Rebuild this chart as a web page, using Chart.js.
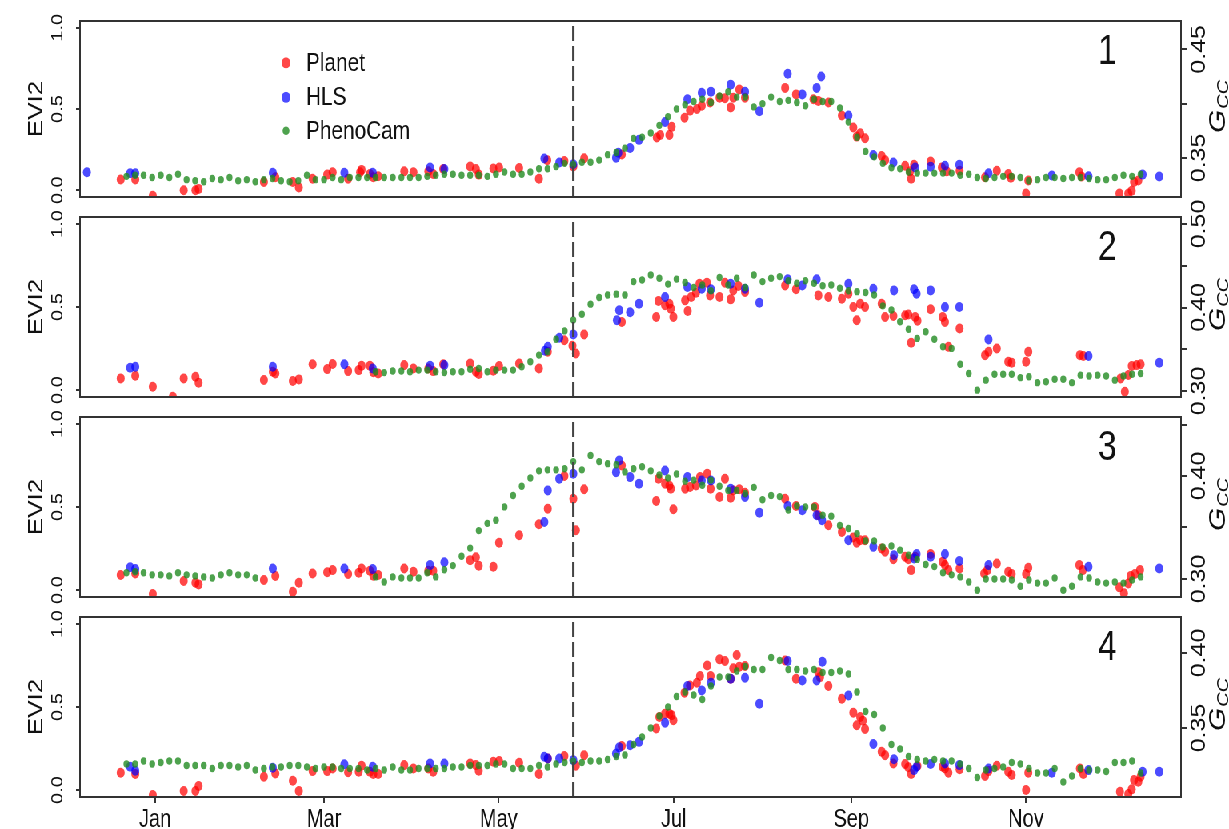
<!DOCTYPE html>
<html>
<head>
<meta charset="utf-8">
<script src="https://cdn.jsdelivr.net/npm/chart.js@4.4.0/dist/chart.umd.min.js"></script>
<style>
html, body { margin: 0; padding: 0; background: #fff; overflow: hidden; width: 1229px; height: 829px; }
#wrap { position: absolute; left: 0; top: 0; width: 1536px; height: 829px; transform: scaleX(0.80013); transform-origin: 0 0; }
#wrap canvas { position: absolute; left: 0; top: 0; width: 1536px; height: 829px; }
</style>
</head>
<body>
<div id="wrap">
  <canvas id="p0" width="1536" height="829"></canvas>
  <canvas id="p1" width="1536" height="829"></canvas>
  <canvas id="p2" width="1536" height="829"></canvas>
  <canvas id="p3" width="1536" height="829"></canvas>
</div>
<script>
// days counted from Jan 1
const monthTicks = [0, 59, 120, 181, 243, 304];
const monthLabels = ['Jan', 'Mar', 'May', 'Jul', 'Sep', 'Nov'];
const dashDay = 146;
const panelNames = ['1', '2', '3', '4'];
const legendNames = ['Planet', 'HLS', 'PhenoCam'];

const eviTicks = [0, 0.5, 1];
const eviTickLabels = ['0.0', '0.5', '1.0'];
const gccRange = [[0.3140, 0.4761], [0.2928, 0.5084], [0.2825, 0.4573], [0.3040, 0.4240]];
const gccTicks = [[0.35, 0.40, 0.45], [0.30, 0.35, 0.40, 0.45, 0.50], [0.30, 0.35, 0.40, 0.45], [0.35, 0.40]];
const gccTickLabels = [['0.35', '', '0.45'], ['0.30', '', '0.40', '', '0.50'], ['0.30', '', '0.40', ''], ['0.35', '0.40']];

// PhenoCam 3-day composites
const phenoDays = [-10,-7,-4,-1,2,5,8,11,14,17,20,23,26,29,32,35,38,41,44,47,50,53,56,59,62,65,68,71,74,77,
  80,83,86,89,92,95,98,101,104,107,110,113,116,119,122,125,128,131,134,137,140,143,146,149,152,155,158,161,164,167,
  170,173,176,179,182,185,188,191,194,197,200,203,206,209,212,215,218,221,224,227,230,233,236,239,242,245,248,251,254,257,
  260,263,266,269,272,275,278,281,284,287,290,293,296,299,302,305,308,311,314,317,320,323,326,329,332,335,338,341,344];

const pheno1 = [0.333,0.334,0.334,0.332,0.334,0.332,0.335,0.330,0.329,0.328,
  0.331,0.330,0.332,0.329,0.330,0.328,0.330,0.331,0.329,0.328,
  0.329,0.334,0.330,0.330,0.332,0.330,0.332,0.332,0.332,0.332,
  0.332,0.332,0.332,0.332,0.332,0.333,0.334,0.335,0.335,0.334,
  0.334,0.334,0.333,0.335,0.337,0.335,0.335,0.337,0.340,0.340,
  0.342,0.345,0.344,0.346,0.346,0.348,0.353,0.355,0.359,0.368,
  0.369,0.373,0.380,0.388,0.395,0.399,0.402,0.404,0.401,0.407,
  0.411,0.406,0.406,0.397,0.400,0.406,0.402,0.403,0.401,0.398,
  0.404,0.402,0.402,0.396,0.383,0.369,0.356,0.351,0.345,0.341,
  0.340,0.337,0.336,0.336,0.336,0.336,0.336,0.334,0.335,0.332,
  0.331,0.332,0.333,0.333,0.332,0.329,0.330,0.332,0.332,0.331,
  0.332,0.332,0.331,0.330,0.330,0.332,0.334,0.333,0.335];

const pheno2 = [null,null,null,null,null,null,null,null,null,null,
  null,null,null,null,null,null,null,null,null,null,
  null,null,null,null,null,null,null,null,null,0.323,
  0.322,0.324,0.324,0.323,0.325,0.325,0.323,0.322,0.323,0.323,
  0.326,0.327,0.323,0.325,0.325,0.325,0.329,0.335,0.343,0.347,
  0.362,0.372,0.385,0.392,0.404,0.412,0.415,0.416,0.415,0.431,
  0.433,0.439,0.435,0.428,0.434,0.430,0.424,0.427,0.420,0.436,
  0.427,0.435,0.424,0.439,0.431,0.435,0.437,0.432,0.429,0.432,
  0.429,0.426,0.427,0.423,0.420,0.419,0.418,0.415,0.402,0.397,
  0.383,0.374,0.363,0.371,0.362,0.353,0.351,0.332,0.321,0.301,
  0.313,0.320,0.320,0.320,0.316,0.317,0.310,0.311,0.314,0.314,
  0.310,0.319,0.318,0.319,0.318,0.313,0.318,0.320,0.321];

const pheno3 = [0.306,0.307,0.306,0.304,0.304,0.303,0.306,0.304,0.303,0.302,
  0.301,0.304,0.306,0.304,0.304,0.301,null,null,null,null,
  null,null,null,null,null,null,null,null,null,0.302,
  0.297,0.302,0.301,0.301,0.301,0.306,0.302,0.309,0.313,0.322,
  0.330,0.347,0.354,0.357,0.370,0.381,0.390,0.398,0.405,0.406,
  0.406,0.407,0.414,0.406,0.420,0.414,0.412,0.411,0.404,0.407,
  0.409,0.405,0.401,0.398,0.402,0.395,0.396,0.391,0.396,0.390,
  0.386,0.386,0.383,0.389,0.377,0.381,0.380,0.367,0.371,0.370,
  0.370,0.362,0.361,0.352,0.349,0.344,0.337,0.337,0.331,0.332,
  0.328,0.323,0.319,0.314,0.312,0.306,0.304,0.302,0.297,0.289,
  0.300,0.300,0.300,0.299,0.293,0.299,0.296,0.296,0.301,0.289,
  0.293,0.302,0.301,0.297,0.296,0.297,0.296,0.299,0.302];

const pheno4 = [0.326,0.326,0.328,0.326,0.327,0.328,0.328,0.325,0.325,0.325,
  0.323,0.325,0.325,0.324,0.325,0.322,0.323,0.324,0.324,0.325,
  0.325,0.324,0.323,0.324,0.324,0.323,0.323,0.323,0.322,0.323,
  0.322,0.324,0.322,0.322,0.323,0.323,0.323,0.323,0.324,0.324,
  0.325,0.325,0.325,0.326,0.326,0.323,0.323,0.323,0.325,0.324,
  0.326,0.327,0.328,0.327,0.328,0.328,0.329,0.331,0.332,0.339,
  0.344,0.350,0.358,0.364,0.371,0.374,0.372,0.369,0.378,0.384,
  0.384,0.388,0.391,0.389,0.389,0.397,0.395,0.389,0.389,0.388,
  0.389,0.387,0.387,0.388,0.386,0.374,0.361,0.359,0.350,0.339,
  0.336,0.331,0.329,0.328,0.329,0.328,0.328,0.326,0.323,0.317,
  0.322,0.323,0.324,0.327,0.326,0.323,0.320,0.320,0.323,0.314,
  0.318,0.323,0.322,0.322,0.321,0.327,0.327,0.328,0.320];

// Planet EVI2 [day, value]
const planet1 = [[-12,0.066],[-6.9,0.066],[-0.8,-0.035],[10,0.0],[14.1,0.0],[15.2,0.008],[38,0.05],[42,0.08],[48.1,0.05],[50.2,0.016],
  [55,0.07],[60.1,0.096],[62,0.11],[67.4,0.07],[71.6,0.11],[72.1,0.125],[75,0.10],[76.2,0.08],[77.9,0.086],[87,0.116],
  [90.2,0.11],[95.4,0.116],[97.1,0.10],[100.6,0.13],[110,0.146],[112,0.13],[113,0.096],[118.1,0.134],[120.1,0.14],[127.1,0.137],
  [134,0.07],[136.9,0.185],[142.9,0.18],[146,0.146],[149.8,0.197],[162.9,0.22],[175.1,0.325],[176.3,0.34],[179.5,0.34],[180.3,0.39],
  [184.8,0.446],[186.7,0.49],[189.1,0.50],[190.8,0.52],[193.7,0.54],[197,0.57],[198.9,0.566],[200.9,0.51],[201.8,0.57],[203.9,0.62],
  [205.9,0.57],[219.9,0.63],[223.7,0.59],[229.8,0.56],[231.5,0.55],[235,0.54],[239.7,0.46],[243.7,0.386],[244.9,0.33],[246.1,0.35],
  [247.8,0.32],[253.6,0.21],[254.8,0.185],[261.8,0.15],[263.5,0.116],[263.9,0.07],[264.9,0.157],[270.7,0.177],[274.6,0.14],[276.3,0.116],
  [280.8,0.12],[289.7,0.08],[293.8,0.12],[297.8,0.10],[298.7,0.077],[304,-0.02],[304.8,0.06],[322.6,0.11],[323.4,0.084],[336.6,-0.02],
  [339.7,-0.02],[340.9,-0.004],[341.7,0.05],[343.2,0.06]];
const planet2 = [[-12,0.07],[-6.9,0.086],[-0.8,0.02],[6.2,-0.04],[10,0.07],[14.1,0.08],[15.2,0.044],[38,0.06],[41.1,0.11],[42,0.10],
  [48.1,0.054],[50.2,0.064],[55,0.155],[60.1,0.126],[62,0.157],[67.4,0.114],[71.1,0.12],[72.1,0.146],[75,0.146],[76.2,0.107],
  [77.9,0.10],[87,0.15],[90.2,0.13],[95.4,0.13],[97.1,0.114],[100.6,0.155],[110,0.16],[112,0.11],[113,0.096],[118.1,0.116],
  [120.1,0.145],[127.1,0.16],[134,0.13],[137.1,0.23],[142.9,0.30],[145.7,0.267],[146.9,0.22],[149.8,0.335],[162.9,0.41],[174.9,0.44],
  [175.7,0.536],[178,0.51],[179.5,0.52],[180,0.49],[180.9,0.44],[185,0.54],[185.9,0.476],[187.1,0.56],[188.8,0.586],[190,0.64],
  [192.6,0.646],[193.7,0.57],[197,0.56],[198.9,0.646],[200.9,0.546],[201.8,0.60],[203.6,0.626],[205.9,0.59],[219.9,0.63],[223.7,0.607],
  [231.5,0.57],[235,0.56],[239.7,0.55],[242,0.58],[243.7,0.50],[244.9,0.42],[246.1,0.52],[247.8,0.50],[253.6,0.52],[254.8,0.44],
  [257.7,0.446],[261.8,0.45],[262.9,0.455],[263.9,0.285],[265.3,0.44],[266.1,0.417],[270.7,0.486],[274.9,0.44],[275.7,0.41],[276.9,0.26],
  [280.8,0.37],[289.7,0.21],[290.9,0.23],[293.8,0.25],[297.8,0.17],[299,0.164],[304,0.17],[304.8,0.23],[322.8,0.21],[324,0.205],
  [337,0.07],[338.5,-0.01],[339.7,0.09],[340.9,0.145],[342.6,0.15],[344,0.155]];
const planet3 = [[-12,0.09],[-6.9,0.10],[-0.8,-0.024],[10,0.054],[14.1,0.044],[15.2,0.034],[38,0.06],[42,0.084],[48.1,-0.01],[50.2,0.044],
  [55,0.10],[60.1,0.107],[62,0.12],[67.4,0.096],[71.1,0.104],[72.1,0.13],[75,0.116],[76.2,0.086],[77.9,0.09],[87,0.13],
  [90.2,0.11],[95.4,0.116],[97.1,0.116],[110,0.18],[112,0.197],[113,0.146],[118.1,0.14],[120.1,0.285],[127.1,0.33],[134,0.396],
  [137.1,0.49],[142.9,0.687],[146,0.55],[146.9,0.36],[149.8,0.607],[162.9,0.75],[174.9,0.536],[175.7,0.67],[178,0.64],[179.5,0.63],
  [180,0.61],[180.9,0.486],[185,0.61],[186.7,0.62],[188.8,0.63],[190.2,0.68],[192.7,0.70],[193.9,0.61],[197,0.56],[198.9,0.67],
  [200.9,0.556],[201.8,0.60],[203.9,0.607],[205.9,0.586],[219.9,0.55],[223.7,0.506],[230.3,0.50],[231.5,0.45],[235,0.39],[239.7,0.35],
  [243.7,0.317],[244.9,0.285],[246.1,0.30],[247.8,0.30],[253.6,0.25],[254.8,0.23],[257.7,0.185],[261.8,0.20],[262.9,0.185],[263.9,0.12],
  [265.3,0.20],[270.7,0.217],[274.9,0.17],[275.7,0.15],[276.9,0.12],[280.8,0.13],[289.4,0.10],[290.5,0.12],[293.8,0.16],[297.8,0.11],
  [299,0.096],[304,0.096],[304.8,0.134],[322.6,0.15],[323.8,0.12],[336.6,0.016],[338.2,-0.02],[339.7,0.04],[340.5,0.084],[342,0.096],
  [343.8,0.12]];
const planet4 = [[-12,0.104],[-6.9,0.096],[-0.8,-0.03],[10,-0.006],[14.1,-0.006],[15.2,0.024],[38,0.08],[42,0.10],[48.1,0.056],[50.2,-0.006],
  [55,0.114],[60.1,0.114],[62,0.13],[67.4,0.107],[71.1,0.11],[72.1,0.146],[75,0.11],[76.2,0.096],[77.9,0.096],[87,0.15],
  [90.2,0.13],[95.4,0.13],[97.1,0.11],[110,0.16],[112,0.15],[113,0.116],[118.1,0.17],[120.1,0.175],[127.1,0.164],[134,0.096],
  [137.1,0.19],[142.9,0.205],[146.9,0.146],[149.8,0.21],[162.9,0.265],[174.9,0.37],[176,0.44],[178,0.46],[179.5,0.46],[180.3,0.45],
  [180.9,0.42],[184.8,0.586],[186.7,0.63],[189.1,0.646],[190.2,0.687],[192.7,0.75],[193.9,0.687],[197,0.787],[198.9,0.777],[200.9,0.67],
  [201.8,0.733],[203,0.813],[203.9,0.743],[205.9,0.747],[219.9,0.78],[223.7,0.67],[231.5,0.71],[232.1,0.68],[235,0.626],[239.7,0.55],
  [243.7,0.466],[244.9,0.39],[246.1,0.44],[247,0.417],[247.8,0.367],[253.6,0.23],[254.8,0.21],[257.7,0.16],[261.8,0.157],[262.9,0.137],
  [263.9,0.096],[266.1,0.145],[274.9,0.14],[275.7,0.13],[276.9,0.104],[280.8,0.125],[289.7,0.084],[290.9,0.114],[293.8,0.146],[297.8,0.11],
  [299,0.09],[304,0.0],[304.8,0.104],[322.8,0.13],[324,0.096],[336.8,-0.01],[339.7,-0.024],[340.9,0.004],[341.7,0.06],[343.2,0.05],
  [344,0.08]];

// HLS EVI2 [day, value]
const hls1 = [[-23.8,0.11],[-8.7,0.104],[-6.9,0.104],[41.1,0.107],[66.1,0.107],[76,0.107],[96,0.14],[101,0.13],[135.9,0.195],[141.1,0.17],
  [146,0.16],[160.9,0.20],[161.7,0.23],[165.8,0.26],[168.9,0.31],[178,0.42],[185.8,0.56],[190.8,0.60],[194,0.607],[200.9,0.65],
  [205.9,0.607],[210.9,0.486],[220.8,0.717],[225.9,0.59],[230.9,0.63],[232.5,0.70],[242,0.46],[250.7,0.217],[257.7,0.17],[265.3,0.14],
  [270.7,0.145],[275.7,0.15],[280.7,0.157],[290.9,0.104],[313,0.09],[325.8,0.086],[344.7,0.096],[350.5,0.084]];
const hls2 = [[-8.7,0.134],[-6.9,0.14],[41.1,0.14],[66.1,0.155],[76,0.13],[96,0.146],[101,0.15],[136.1,0.237],[137.1,0.26],[141.1,0.315],
  [146,0.335],[161.2,0.42],[162,0.48],[165.8,0.468],[168.9,0.52],[178,0.56],[185.8,0.62],[190.8,0.61],[194,0.607],[200.9,0.64],
  [205.9,0.61],[210.9,0.526],[220.8,0.667],[225.9,0.63],[230.9,0.667],[242,0.64],[250.7,0.61],[257.9,0.60],[264.9,0.607],[265.8,0.58],
  [270.7,0.60],[275.7,0.50],[280.7,0.50],[290.9,0.305],[325.8,0.205],[350.5,0.164]];
const hls3 = [[-8.7,0.137],[-6.9,0.126],[41.1,0.13],[66.1,0.13],[76,0.126],[96,0.15],[101,0.167],[135.9,0.41],[137.1,0.60],[141.1,0.67],
  [146,0.70],[160.9,0.71],[162,0.78],[165.8,0.68],[168.9,0.64],[178,0.72],[185.8,0.68],[190.8,0.66],[194,0.66],[200.9,0.61],
  [205.9,0.56],[210.9,0.466],[220.8,0.506],[225.9,0.48],[230.9,0.45],[232.8,0.42],[242,0.30],[250.7,0.26],[257.9,0.21],[264.9,0.19],
  [265.8,0.217],[270.7,0.20],[275.7,0.217],[280.7,0.175],[290.9,0.15],[325.8,0.14],[350.5,0.13]];
const hls4 = [[-8.7,0.14],[-6.9,0.116],[41.1,0.134],[66.1,0.155],[76,0.14],[96,0.16],[101,0.16],[135.9,0.20],[137.1,0.19],[141.1,0.19],
  [146,0.18],[160.9,0.22],[162,0.257],[165.8,0.27],[168.9,0.29],[178,0.405],[185.8,0.626],[190.8,0.60],[194,0.646],[200.9,0.67],
  [205.9,0.676],[210.9,0.52],[220.8,0.777],[225.9,0.66],[230.9,0.66],[232.9,0.773],[242,0.57],[250.7,0.277],[257.9,0.185],[264.9,0.12],
  [265.8,0.14],[270.7,0.157],[275.7,0.16],[280.7,0.15],[290.9,0.13],[313,0.104],[325.8,0.12],[344.7,0.11],[350.5,0.11]];

const planetSets = [planet1, planet2, planet3, planet4];
const hlsSets = [hls1, hls2, hls3, hls4];
const phenoSets = [pheno1, pheno2, pheno3, pheno4];

const RED = 'rgba(255,0,0,0.72)';
const BLUE = 'rgba(0,0,255,0.7)';
const GREEN = 'rgba(34,139,34,0.8)';
const FONT = '"Liberation Sans", Arial, Helvetica, sans-serif';

function pairsToXY(pairs) {
  return pairs.map(p => ({x: p[0], y: p[1]}));
}
function phenoToXY(vals) {
  let out = [];
  for (let k = 0; k < vals.length; k++) {
    if (vals[k] !== null) out.push({x: phenoDays[k], y: vals[k]});
  }
  return out;
}

const decor = {
  id: 'decor',
  afterDraw(chart, args, opts) {
    const ctx = chart.ctx;
    const a = chart.chartArea;
    const xd = chart.scales.x.getPixelForValue(dashDay);
    ctx.save();
    // dashed reference line
    ctx.strokeStyle = '#444';
    ctx.lineWidth = 3;
    ctx.setLineDash([15, 5]);
    ctx.beginPath();
    ctx.moveTo(xd, a.top + 5);
    ctx.lineTo(xd, a.bottom);
    ctx.stroke();
    ctx.setLineDash([]);
    // panel box
    ctx.strokeStyle = '#333';
    ctx.lineWidth = 2;
    ctx.strokeRect(a.left, a.top, a.right - a.left, a.bottom - a.top);
    // panel number
    ctx.fillStyle = '#111';
    ctx.font = '42px ' + FONT;
    ctx.textAlign = 'center';
    ctx.textBaseline = 'alphabetic';
    ctx.fillText(panelNames[opts.panel], a.right - 92, a.top + 43);
    // legend in the first panel
    if (opts.panel === 0) {
      const cols = [RED, BLUE, GREEN];
      const rads = [5.5, 5.5, 4.3];
      const offs = [41.8, 76.3, 109.7];
      ctx.font = '26px ' + FONT;
      ctx.textAlign = 'left';
      ctx.textBaseline = 'middle';
      for (let j = 0; j < 3; j++) {
        ctx.fillStyle = cols[j];
        ctx.beginPath();
        ctx.arc(a.left + 257.5, a.top + offs[j], rads[j], 0, Math.PI * 2);
        ctx.fill();
        ctx.fillStyle = '#111';
        ctx.fillText(legendNames[j], a.left + 282.5, a.top + offs[j] + 1);
      }
    }
    // right axis title G_cc
    ctx.translate(a.right + 55, (a.top + a.bottom) / 2 - 2);
    ctx.rotate(-Math.PI / 2);
    ctx.textAlign = 'left';
    ctx.textBaseline = 'alphabetic';
    ctx.font = 'italic 30px ' + FONT;
    const wG = ctx.measureText('G').width;
    ctx.font = 'italic 20px ' + FONT;
    const wC = ctx.measureText('CC').width;
    const x0 = -(wG + wC) / 2;
    ctx.fillStyle = '#111';
    ctx.font = 'italic 30px ' + FONT;
    ctx.fillText('G', x0, 0);
    ctx.font = 'italic 20px ' + FONT;
    ctx.fillText('CC', x0 + wG + 1, 4);
    ctx.restore();
  }
};

function makePanel(i) {
  const isLast = i === 3;
  const ctx = document.getElementById('p' + i).getContext('2d');
  return new Chart(ctx, {
    type: 'scatter',
    data: {
      datasets: [
        { label: 'Planet', data: pairsToXY(planetSets[i]), yAxisID: 'y', backgroundColor: RED,
          pointRadius: 5, pointHoverRadius: 5, pointBorderWidth: 0, order: 3, clip: 0 },
        { label: 'HLS', data: pairsToXY(hlsSets[i]), yAxisID: 'y', backgroundColor: BLUE,
          pointRadius: 5, pointHoverRadius: 5, pointBorderWidth: 0, order: 2, clip: 0 },
        { label: 'PhenoCam', data: phenoToXY(phenoSets[i]), yAxisID: 'y1', backgroundColor: GREEN,
          pointRadius: 3.7, pointHoverRadius: 3.7, pointBorderWidth: 0, order: 1, clip: 0 }
      ]
    },
    options: {
      responsive: false,
      animation: false,
      events: [],
      layout: { padding: { top: 17 + 200 * i, bottom: isLast ? 0 : 829 - (197 + 200 * i), left: 0, right: 0 } },
      plugins: { legend: { display: false }, tooltip: { enabled: false }, decor: { panel: i } },
      scales: {
        x: {
          type: 'linear', min: -26.2, max: 358.1, display: isLast,
          afterBuildTicks: s => { s.ticks = monthTicks.map(v => ({value: v})); },
          afterFit: s => { s.height = isLast ? 32 : 0; },
          border: { display: false },
          grid: { drawOnChartArea: false, drawTicks: true, tickLength: 6, color: '#333', lineWidth: 2 },
          ticks: { autoSkip: false, maxRotation: 0, padding: 2, color: '#111', font: { family: FONT, size: 25 },
            callback: (v, idx) => monthLabels[idx] }
        },
        y: {
          position: 'left', min: -0.042, max: 1.042,
          afterBuildTicks: s => { s.ticks = eviTicks.map(v => ({value: v})); },
          afterFit: s => { s.width = 100; },
          border: { display: false },
          grid: { drawOnChartArea: false, drawTicks: true, tickLength: 5, color: '#333', lineWidth: 2 },
          ticks: { autoSkip: false, minRotation: 90, maxRotation: 90, crossAlign: 'center', padding: 9,
            color: '#111', font: { family: FONT, size: 20 }, callback: (v, idx) => eviTickLabels[idx] },
          title: { display: true, text: 'EVI2', color: '#111', font: { family: FONT, size: 26 }, padding: { top: 30, bottom: 0 } }
        },
        y1: {
          position: 'right', min: gccRange[i][0], max: gccRange[i][1],
          afterBuildTicks: s => { s.ticks = gccTicks[i].map(v => ({value: v})); },
          afterFit: s => { s.width = 60; },
          border: { display: false },
          grid: { drawOnChartArea: false, drawTicks: true, tickLength: 7, color: '#333', lineWidth: 2 },
          ticks: { autoSkip: false, minRotation: 90, maxRotation: 90, crossAlign: 'center', padding: -8,
            color: '#111', font: { family: FONT, size: 25 }, callback: (v, idx) => gccTickLabels[i][idx] }
        }
      }
    },
    plugins: [decor]
  });
}

for (let i = 0; i < 4; i++) makePanel(i);
</script>
</body>
</html>
